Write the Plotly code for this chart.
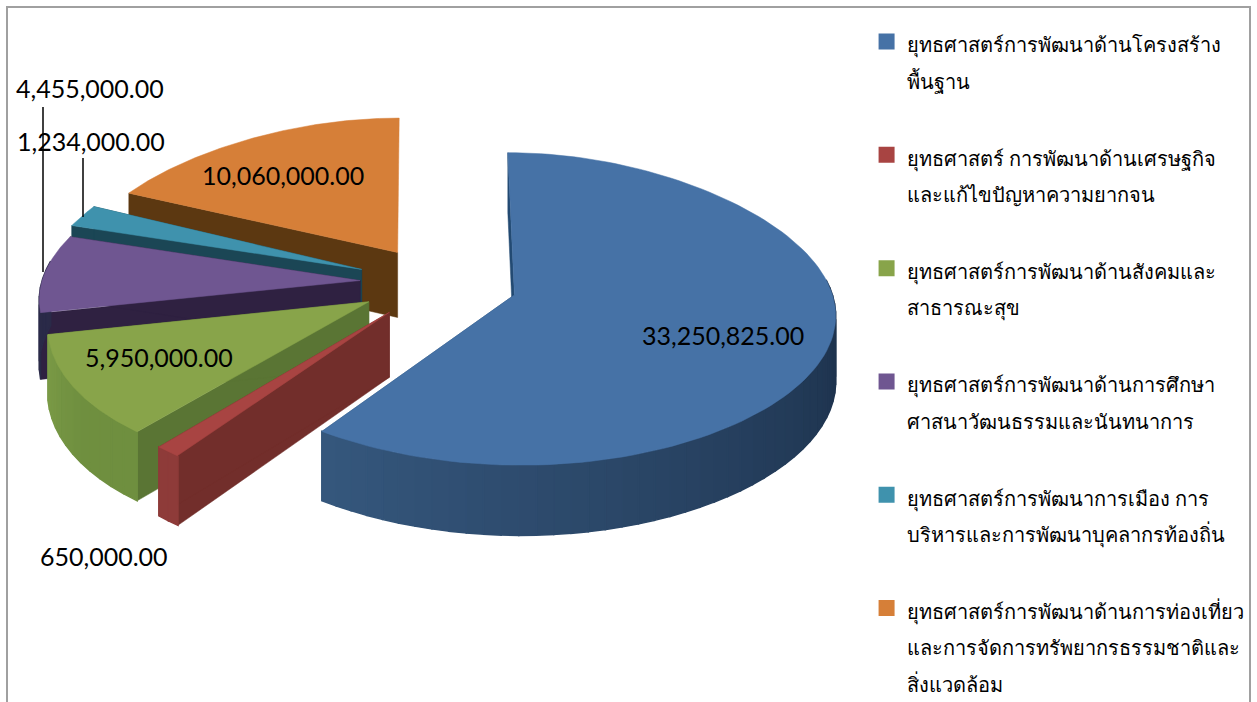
import numpy as np
import plotly.graph_objects as go

names = [
    "ยุทธศาสตร์การพัฒนาด้านโครงสร้าง<br>พื้นฐาน",
    "ยุทธศาสตร์ การพัฒนาด้านเศรษฐกิจ<br>และแก้ไขปัญหาความยากจน",
    "ยุทธศาสตร์การพัฒนาด้านสังคมและ<br>สาธารณะสุข",
    "ยุทธศาสตร์การพัฒนาด้านการศึกษา<br>ศาสนาวัฒนธรรมและนันทนาการ",
    "ยุทธศาสตร์การพัฒนาการเมือง การ<br>บริหารและการพัฒนาบุคลากรท้องถิ่น",
    "ยุทธศาสตร์การพัฒนาด้านการท่องเที่ยว<br>และการจัดการทรัพยากรธรรมชาติและ<br>สิ่งแวดล้อม",
]
values = [33250825, 650000, 5950000, 4455000, 1234000, 10060000]
value_labels = ["33,250,825.00", "650,000.00", "5,950,000.00", "4,455,000.00", "1,234,000.00", "10,060,000.00"]

top_colors = ["#4672a6", "#a84442", "#88a44a", "#6f5691", "#3f92ad", "#d67f38"]
radial_colors = ["#234a72", "#722e2b", "#5a7534", "#2f2141", "#1b4655", "#5c3811"]
rim_from = ["#36587e", "#8e3b39", "#7c9c48", "#2a2a48", "#1b4655", "#5c3811"]
rim_to = ["#182a42", "#8e3b39", "#6f8f3f", "#2a2a48", "#1b4655", "#5c3811"]
explode = [0.272, 0.21, 0.225, 0.22, 0.23, 0.23]
apex_dx = [2, 0, 0, 0, 0, 7]
apex_dy = [0, 4, 1.5, 0, 0, 0]
boost_x = [0.02, 0.11, 0.11, 0, 0, 0]
boost_y = [0, 0.08, 0.02, 0, 0, 0]
scale_y = [1, 1, 1, 1, 1, 0.945]
draw_order = [5, 4, 3, 2, 1, 0]
label_xy = [(723, 335), (104, 556), (159, 357), (90, 88), (91, 141), (283, 175)]

CX, CY, RX, RY, PERSP, DEPTH, SHEAR = 430, 282, 318, 155, 0.09, 65, -0.07


def hex_rgb(h):
    return np.array([int(h[i:i + 2], 16) for i in (1, 3, 5)], float)


def mix(a, b, t):
    c = hex_rgb(a) * (1 - t) + hex_rgb(b) * t
    return "rgb(%d,%d,%d)" % tuple(c)


def apex(mid, i):
    e = explode[i]
    X, Y = np.sin(mid) * e, np.cos(mid) * e
    return CX + RX * X + apex_dx[i], CY - RY * Y / (1 + PERSP * Y) + apex_dy[i]


def project(ax, ay, theta, i):
    X, Y = np.sin(theta), np.cos(theta)
    sx = 1 - 0.13 * Y - 0.064 * Y ** 2
    x = ax + RX * X * sx * (1 + boost_x[i] * Y ** 2) + SHEAR * (ax - 420) * Y
    y = ay - RY * Y / (1 + PERSP * Y) * scale_y[i] * (1 + boost_y[i] * Y ** 2)
    return x, y


def depth(theta):
    return DEPTH * (1 - 0.08 * np.cos(theta))


def poly(xs, ys, color, lw=0.5):
    return go.Scatter(x=list(xs) + [xs[0]], y=list(ys) + [ys[0]], mode="lines", fill="toself",
                      fillcolor=color, line=dict(color=color, width=lw), showlegend=False,
                      hoverinfo="skip")


fig = go.Figure()
edges = np.concatenate([[0], np.cumsum(values)]) / np.sum(values) * 2 * np.pi

for i in draw_order:
    a0, a1 = edges[i], edges[i + 1]
    ax, ay = apex((a0 + a1) / 2, i)
    for a in (a0, a1):
        if np.cos(a) > 0.99 and i != 0:
            continue  # only the large slice shows its far cut face
        x, y = project(ax, ay, a, i)
        fig.add_trace(poly([ax, x, x, ax], [ay, y, y + depth(a), ay + DEPTH], radial_colors[i]))
    th = np.linspace(a0, a1, max(3, int((a1 - a0) / 0.05)))
    for k in range(len(th) - 1):
        if np.cos(th[k]) >= 0.1:
            continue  # rear of the rim faces away from the viewer
        x0, y0 = project(ax, ay, th[k], i)
        x1, y1 = project(ax, ay, th[k + 1], i)
        # gradient runs from the slice's far edge toward its near edge
        t = (a1 - th[k]) / (a1 - a0)
        fig.add_trace(poly([x0, x1, x1, x0], [y0, y1, y1 + depth(th[k + 1]), y0 + depth(th[k])],
                           mix(rim_from[i], rim_to[i], min(t * 1.5, 1)), lw=1.5))
    th = np.linspace(a0, a1, 120)
    xs, ys = project(ax, ay, th, i)
    fig.add_trace(poly([ax, *xs], [ay, *ys], top_colors[i]))

# leader lines
fig.add_trace(go.Scatter(x=[43, 43], y=[107, 272], mode="lines", line=dict(color="black", width=1.5),
                         showlegend=False, hoverinfo="skip"))
fig.add_trace(go.Scatter(x=[83, 83], y=[158, 217], mode="lines", line=dict(color="black", width=1.5),
                         showlegend=False, hoverinfo="skip"))

# legend entries
for i, n in enumerate(names):
    fig.add_trace(go.Scatter(x=[None], y=[None], mode="markers", name='<span style="font-size:20px">%s</span>' % n,
                             legendgroup=str(i), marker=dict(symbol="square", size=16, color=top_colors[i])))

for (x, y), t in zip(label_xy, value_labels):
    fig.add_annotation(x=x, y=y, text=t, showarrow=False, font=dict(family="Lato, sans-serif", size=25, color="black"),
                       xanchor="center", yanchor="middle")

fig.add_shape(type="rect", x0=7, y0=7, x1=1250, y1=720, line=dict(color="#a0a0a0", width=2), fillcolor="rgba(0,0,0,0)")

fig.update_layout(
    width=1257, height=702, autosize=False, margin=dict(l=0, r=0, t=0, b=0, autoexpand=False),
    paper_bgcolor="white", plot_bgcolor="white",
    xaxis=dict(range=[0, 1257], visible=False, fixedrange=True),
    yaxis=dict(range=[702, 0], visible=False, fixedrange=True),
    legend=dict(x=0.6894, y=0.976, xanchor="left", yanchor="top", valign="top", tracegroupgap=37.5,
                font=dict(family="Tahoma, 'Noto Sans', 'DejaVu Sans', sans-serif", size=28, color="black"),
                bgcolor="rgba(0,0,0,0)", itemclick=False, itemdoubleclick=False),
)
fig.write_html("out.html", config=dict(displayModeBar=False),
               post_script="document.body.style.margin='0';document.body.style.overflow='hidden';")
